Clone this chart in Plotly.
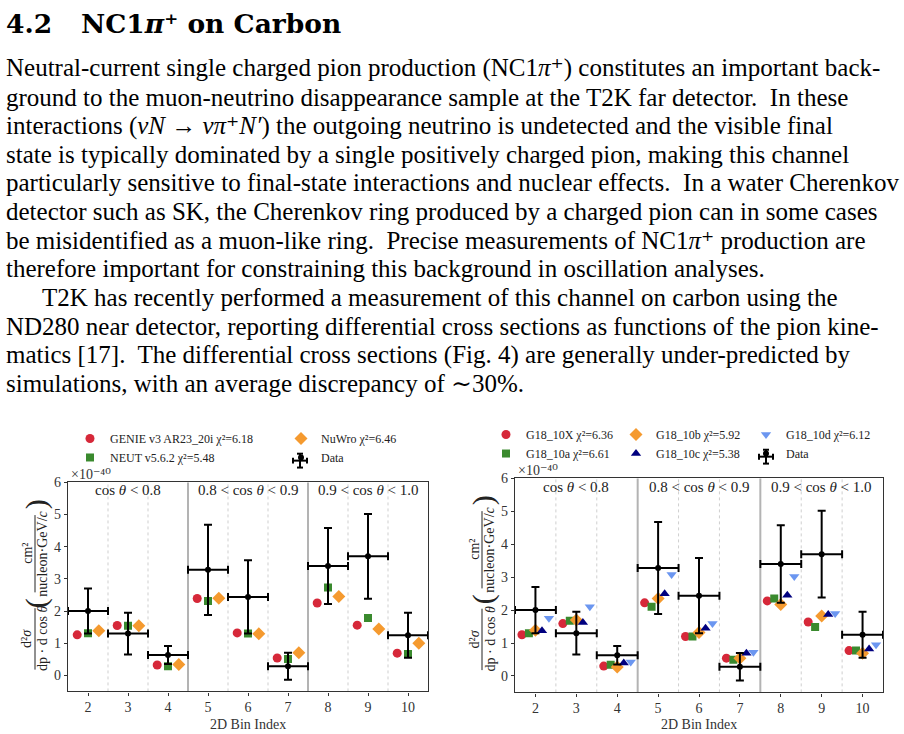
import plotly.graph_objects as go

# ---------------- data (units of 1e-40) ----------------
bins = [2, 3, 4, 5, 6, 7, 8, 9, 10]
data_y = [2.00, 1.30, 0.63, 3.28, 2.44, 0.28, 3.40, 3.70, 1.25]
data_err = [0.70, 0.65, 0.28, 1.40, 1.14, 0.42, 1.18, 1.32, 0.70]
bin_half_width = [0.5, 0.5, 0.5, 0.5, 0.5, 0.5, 0.5, 0.5, 0.5]

genie = [1.26, 1.55, 0.32, 2.39, 1.32, 0.54, 2.25, 1.56, 0.69]
neut = [1.31, 1.54, 0.28, 2.31, 1.30, 0.51, 2.73, 1.78, 0.66]
nuwro = [1.39, 1.54, 0.34, 2.40, 1.29, 0.70, 2.45, 1.44, 1.00]

g18_10x = [1.25, 1.59, 0.30, 2.22, 1.20, 0.54, 2.28, 1.64, 0.77]
g18_10a = [1.30, 1.68, 0.34, 2.10, 1.20, 0.49, 2.35, 1.49, 0.77]
g18_10b = [1.39, 1.70, 0.27, 2.35, 1.32, 0.54, 2.17, 1.82, 0.69]
g18_10c = [1.37, 1.62, 0.39, 2.50, 1.45, 0.69, 2.45, 1.87, 0.82]
g18_10d = [1.75, 2.10, 0.42, 3.08, 1.59, 0.72, 3.02, 1.90, 0.95]

y_ticks = [0, 1, 2, 3, 4, 5, 6]
group_edges = [4.5, 7.5]
bin_edges = [2.5, 3.5, 5.5, 6.5, 8.5, 9.5]
region_centers = [3, 6, 9]
region_labels = ["cos <i>θ</i> &lt; 0.8", "0.8 &lt; cos <i>θ</i> &lt; 0.9", "0.9 &lt; cos <i>θ</i> &lt; 1.0"]

left_models = [
    ("GENIE v3 AR23_20i χ²=6.18", genie, -0.27, "#d62839", "circle", 9, "legend"),
    ("NEUT v5.6.2 χ²=5.48", neut, 0.0, "#3a8a2e", "square", 8, "legend"),
    ("NuWro χ²=6.46", nuwro, 0.27, "#f59a2f", "diamond", 10, "legend2"),
]
right_models = [
    ("G18_10X χ²=6.36", g18_10x, -0.33, "#d62839", "circle", 9, "legend3"),
    ("G18_10a χ²=6.61", g18_10a, -0.16, "#3a8a2e", "square", 8, "legend3"),
    ("G18_10b χ²=5.92", g18_10b, 0.0, "#f59a2f", "diamond", 10, "legend4"),
    ("G18_10c χ²=5.38", g18_10c, 0.16, "#00007f", "triangle-up", 9, "legend4"),
    ("G18_10d χ²=6.12", g18_10d, 0.33, "#6b96f0", "triangle-down", 9, "legend5"),
]

heading_num = "4.2"
heading_txt = "NC1<i>π</i>⁺ on Carbon"
body_lines = [
    "Neutral-current single charged pion production (NC1<i>π</i>⁺) constitutes an important back-",
    "ground to the muon-neutrino disappearance sample at the T2K far detector.  In these",
    "interactions (<i>νN</i> → <i>νπ</i>⁺<i>N′</i>) the outgoing neutrino is undetected and the visible final",
    "state is typically dominated by a single positively charged pion, making this channel",
    "particularly sensitive to final-state interactions and nuclear effects.  In a water Cherenkov",
    "detector such as SK, the Cherenkov ring produced by a charged pion can in some cases",
    "be misidentified as a muon-like ring.  Precise measurements of NC1<i>π</i>⁺ production are",
    "therefore important for constraining this background in oscillation analyses.",
    "T2K has recently performed a measurement of this channel on carbon using the",
    "ND280 near detector, reporting differential cross sections as functions of the pion kine-",
    "matics [17].  The differential cross sections (Fig. 4) are generally under-predicted by",
    "simulations, with an average discrepancy of ∼30%.",
]
indented_line = 8

# ---------------- figure ----------------
W, H = 904, 734
SERIF = "Liberation Serif, Times New Roman, DejaVu Serif, serif"


def px(x):
    return x / W


def py(y):
    return 1 - y / H


fig = go.Figure()


def add_panel(models, xa, ya):
    for name, vals, off, col, sym, size, leg in models:
        fig.add_trace(go.Scatter(
            x=[b + off for b in bins], y=vals, mode="markers", name=name,
            marker=dict(color=col, symbol=sym, size=size, line=dict(width=0)),
            xaxis=xa, yaxis=ya, legend=leg, showlegend=True,
        ))


def add_data(xa, ya, leg):
    fig.add_trace(go.Scatter(
        x=bins, y=data_y, mode="markers", name="Data",
        marker=dict(color="black", size=6, symbol="circle"),
        error_y=dict(type="data", array=data_err, color="black", thickness=2, width=4),
        error_x=dict(type="data", array=bin_half_width, color="black", thickness=2, width=4),
        xaxis=xa, yaxis=ya, legend=leg,
    ))


add_panel(left_models, "x", "y")
add_data("x", "y", "legend2")
add_panel(right_models, "x2", "y2")
add_data("x2", "y2", "legend5")

axis_common = dict(showline=True, mirror=True, linecolor="#333333", linewidth=1.2,
                   ticks="outside", ticklen=3, tickcolor="#333333", showgrid=False,
                   zeroline=False, tickfont=dict(family=SERIF, size=14, color="#333333"))

panels = {
    "left": dict(x0=68, x1=428, y0=480, y1=691, xa="x", ya="y", dx=0, leg_data=(300, 458)),
    "right": dict(x0=515, x1=883, y0=476, y1=692, xa="x2", ya="y2", dx=447, leg_data=(766, 454)),
}

fig.update_layout(
    xaxis=dict(domain=[px(68), px(428)], range=[1.5, 10.5], tickvals=bins, anchor="y", **axis_common),
    yaxis=dict(domain=[py(691), py(480)], range=[-0.5, 6], tickvals=y_ticks, anchor="x", **axis_common),
    xaxis2=dict(domain=[px(515), px(883)], range=[1.5, 10.5], tickvals=bins, anchor="y2", **axis_common),
    yaxis2=dict(domain=[py(692), py(476)], range=[-0.5, 6], tickvals=y_ticks, anchor="x2", **axis_common),
)

shapes = []
annotations = []
for key, p in panels.items():
    xref = p["xa"]
    yref = p["ya"] + " domain"
    for e in group_edges:
        shapes.append(dict(type="line", xref=xref, yref=yref, x0=e, x1=e, y0=0, y1=1,
                           line=dict(color="#b3b3b3", width=2), layer="below"))
    for e in bin_edges:
        shapes.append(dict(type="line", xref=xref, yref=yref, x0=e, x1=e, y0=0, y1=1,
                           line=dict(color="#cfcfcf", width=1, dash="dot"), layer="below"))
    for c, lab in zip(region_centers, region_labels):
        annotations.append(dict(x=c, y=5.75, xref=xref, yref=p["ya"], text=lab, showarrow=False,
                                font=dict(family=SERIF, size=15, color="#222222"),
                                xanchor="center", yanchor="middle"))
    dx = p["dx"]
    # error-bar cross for the legend "Data" glyph
    lx, ly = p["leg_data"]
    for (a0, b0, a1, b1) in [(-7, 0, 7, 0), (0, -7, 0, 7), (-7, -3, -7, 3), (7, -3, 7, 3),
                             (-3, -7, 3, -7), (-3, 7, 3, 7)]:
        shapes.append(dict(type="line", xref="paper", yref="paper",
                           x0=px(lx + a0), x1=px(lx + a1), y0=py(ly + b0), y1=py(ly + b1),
                           line=dict(color="black", width=2)))
    # x10^-40 multiplier
    annotations.append(dict(x=px(p["x0"] + 1), y=py(p["y0"] + 2), xref="paper", yref="paper",
                            text="×10⁻⁴⁰", showarrow=False, xanchor="left", yanchor="bottom",
                            font=dict(family=SERIF, size=14, color="#333333")))
    # x title
    annotations.append(dict(x=px((p["x0"] + p["x1"]) / 2), y=py(724), xref="paper", yref="paper",
                            text="2D Bin Index", showarrow=False, xanchor="center", yanchor="middle",
                            font=dict(family=SERIF, size=14, color="#333333")))
    # y title built as two stacked fractions with large parentheses
    yc1 = 638 + (p["y1"] - 691) * 0.5
    yc2 = 552 + (p["y0"] - 480)
    for (txt, xx, yy) in [
        ("d²<i>σ</i>", 27, yc1),
        ("dp · d cos <i>θ</i>", 43, yc1),
        ("cm²", 28, yc2),
        ("nucleon·GeV/<i>c</i>", 43, yc2),
    ]:
        annotations.append(dict(x=px(xx + dx), y=py(yy), xref="paper", yref="paper", text=txt,
                                textangle=-90, showarrow=False, xanchor="center", yanchor="middle",
                                font=dict(family=SERIF, size=14, color="#222222")))
    shapes.append(dict(type="line", xref="paper", yref="paper", x0=px(35 + dx), x1=px(35 + dx),
                       y0=py(yc1 - 31), y1=py(yc1 + 31), line=dict(color="#222222", width=1)))
    shapes.append(dict(type="line", xref="paper", yref="paper", x0=px(35 + dx), x1=px(35 + dx),
                       y0=py(yc2 - 39), y1=py(yc2 + 39), line=dict(color="#222222", width=1)))
    for ch, yy in [("(", yc2 + 50), (")", yc2 - 50)]:
        annotations.append(dict(x=px(36 + dx), y=py(yy), xref="paper", yref="paper", text=ch,
                                textangle=-90, showarrow=False, xanchor="center", yanchor="middle",
                                font=dict(family=SERIF, size=30, color="#222222")))

# heading and body text
HEAD = "DejaVu Serif, Liberation Serif, serif"
annotations.append(dict(x=px(4), y=py(17), xref="paper", yref="paper", text="<b>" + heading_num + "</b>",
                        showarrow=False, xanchor="left", yanchor="middle",
                        font=dict(family=HEAD, size=26.5, color="black")))
annotations.append(dict(x=px(79), y=py(17), xref="paper", yref="paper", text="<b>" + heading_txt + "</b>",
                        showarrow=False, xanchor="left", yanchor="middle",
                        font=dict(family=HEAD, size=26.5, color="black")))
for i, line in enumerate(body_lines):
    xs = 40 if i == indented_line else 4
    annotations.append(dict(x=px(xs), y=py(62 + 28.9 * i), xref="paper", yref="paper", text=line,
                            showarrow=False, xanchor="left", yanchor="middle",
                            font=dict(family=SERIF, size=25, color="black")))

leg_common = dict(orientation="v", xanchor="left", yanchor="top", bgcolor="rgba(0,0,0,0)",
                  font=dict(family=SERIF, size=12, color="#222222"), tracegroupgap=0)
fig.update_layout(
    legend=dict(x=px(70), y=py(421), **leg_common),
    legend2=dict(x=px(281), y=py(421), **leg_common),
    legend3=dict(x=px(486), y=py(417), **leg_common),
    legend4=dict(x=px(616), y=py(417), **leg_common),
    legend5=dict(x=px(746), y=py(417), **leg_common),
)

fig.update_layout(
    width=W, height=H, margin=dict(l=0, r=0, t=0, b=0),
    paper_bgcolor="white", plot_bgcolor="white",
    shapes=shapes, annotations=annotations,
)

fig.write_html("out.html")
